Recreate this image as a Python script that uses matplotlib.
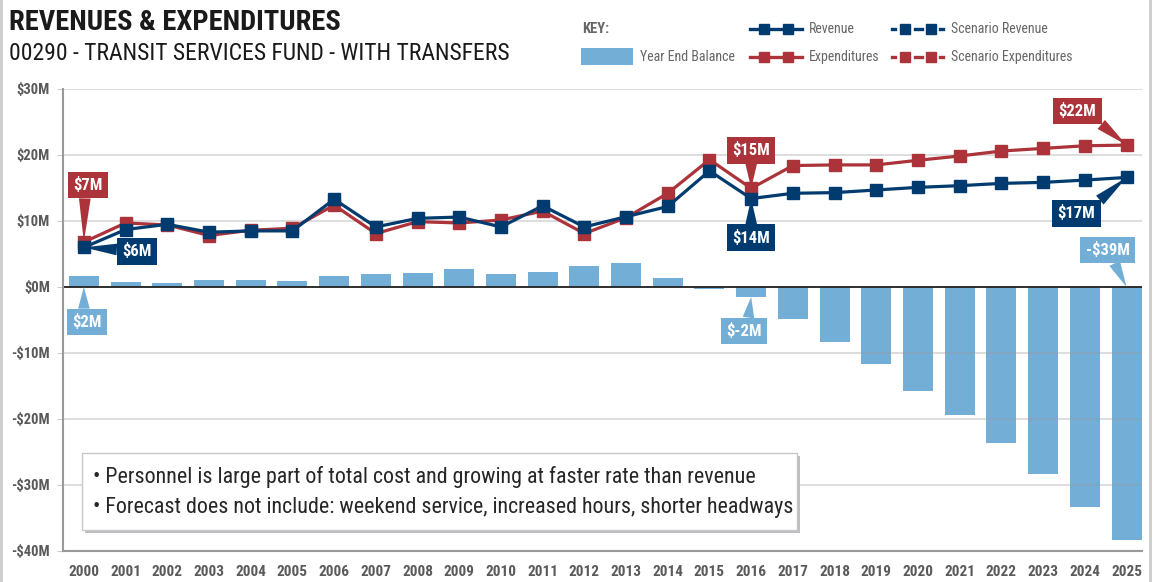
import numpy as np
import matplotlib
matplotlib.use('Agg')
import matplotlib.pyplot as plt
from matplotlib import font_manager
from matplotlib.lines import Line2D
from matplotlib.patches import Rectangle

# フォント選択 (細身のフォントを優先)
names = {f.name for f in font_manager.fontManager.ttflist}
cands = ['Roboto Condensed', 'Pathway Gothic One', 'Archivo Narrow', 'PT Sans Narrow',
         'Open Sans Condensed', 'IBM Plex Sans Condensed', 'DejaVu Sans']
cond = [c for c in cands if c in names][0]
plt.rcParams['font.family'] = [cond, 'DejaVu Sans']

# データ
years = [str(y) for y in range(2000, 2026)]
balance = [1.7, 0.8, 0.65, 1.05, 1.05, 0.9, 1.7, 2.0, 2.1, 2.7, 2.0, 2.3, 3.2, 3.6,
           1.35, -0.25, -1.5, -4.8, -8.4, -11.6, -15.8, -19.4, -23.7, -28.3, -33.3, -38.3]
revenue = [6.0, 8.7, 9.5, 8.3, 8.5, 8.5, 13.3, 9.1, 10.4, 10.6, 9.1, 12.3, 9.1, 10.65,
           12.2, 17.6, 13.4, 14.2, 14.3, 14.7, 15.1, 15.35, 15.7, 15.85, 16.2, 16.6]
expend = [6.8, 9.7, 9.4, 7.8, 8.6, 8.9, 12.4, 8.1, 9.9, 9.7, 10.15, 11.5, 8.1, 10.5,
          14.2, 19.3, 14.95, 18.4, 18.5, 18.5, 19.2, 19.85, 20.6, 21.0, 21.4, 21.5]
yticks = [30, 20, 10, 0, -10, -20, -30, -40]
ytick_labels = ['$30M', '$20M', '$10M', '$0M', '-$10M', '-$20M', '-$30M', '-$40M']
notes = ['Personnel is large part of total cost and growing at faster rate than revenue',
         'Forecast does not include: weekend service, increased hours, shorter headways']

# 色
NAVY = '#003b6f'
RED = '#ab3339'
BLUE = '#73aed6'
GRAY = '#5a5a5a'

W, H = 1155, 582
fig = plt.figure(figsize=(W / 100, H / 100), dpi=100)
ax = fig.add_axes([63 / W, 1 - 551 / H, (1142 - 63) / W, (551 - 89) / H])

x = np.arange(len(years))
ax.bar(x, balance, width=0.72, color=BLUE, zorder=2)
for t in yticks:
    ax.axhline(t, color='#9a9a9a', lw=1.2, alpha=0.4, zorder=2.2)
ax.axhline(0, color='#222222', lw=1.3, zorder=2.5)
ax.plot(x, expend, color=RED, lw=2.3, marker='s', ms=8, zorder=3)
ax.plot(x, revenue, color=NAVY, lw=2.3, marker='s', ms=8, zorder=4)

ax.set_xlim(-0.5, 25.37)
ax.set_ylim(-40, 30)
ax.set_xticks(x)
ax.set_xticklabels(years, fontsize=11, fontweight='bold', color=GRAY)
ax.set_yticks(yticks)
ax.set_yticklabels(ytick_labels, fontsize=10.5, fontweight='bold', color=GRAY)
ax.tick_params(axis='x', length=0, pad=10)
ax.tick_params(axis='y', length=4, color='#cccccc', pad=5.5)
for s in ['top', 'right']:
    ax.spines[s].set_visible(False)
for s in ['left', 'bottom']:
    ax.spines[s].set_color('#999999')
    ax.spines[s].set_linewidth(1.5)


# 吹き出しラベル
def callout(text, xi, yv, dx, dy, color, rel):
    ax.annotate(text, xy=(xi, yv), xytext=(dx, dy), textcoords='offset pixels',
                ha='center', va='center', fontsize=12, fontweight='bold', color='white',
                bbox=dict(boxstyle='square,pad=0.32', fc=color, ec='none'),
                arrowprops=dict(arrowstyle='wedge,tail_width=0.7,shrink_factor=0.5',
                                fc=color, ec='none', shrinkA=0, shrinkB=0, relpos=rel),
                zorder=6)


callout('$7M', 0, expend[0], 4, 57, RED, (0.4, 0))
callout('$6M', 0, revenue[0], 53, -4, NAVY, (0, 0.6))
callout('$2M', 0, 0, 3, -35, BLUE, (0.4, 1))
callout('$15M', 16, expend[16], 0, 38, RED, (0.5, 0))
callout('$14M', 16, revenue[16], 0, -39, NAVY, (0.5, 1))
callout('$-2M', 16, balance[16], -7, -34, BLUE, (0.6, 1))
callout('$22M', 25, expend[25], -49, 34, RED, (0.85, 0.2))
callout('$17M', 25, revenue[25], -50, -36, NAVY, (0.85, 0.8))
callout('-$39M', 25, 0, -19, 37, BLUE, (0.6, 0))


def fx(px):
    return px / W


def fy(py):
    return 1 - py / H


# タイトル
fig.text(fx(9), fy(23), 'REVENUES & EXPENDITURES', fontsize=20.5, fontweight='bold',
         color='#1a1a1a', va='center')
fig.text(fx(9), fy(53), '00290 - TRANSIT SERVICES FUND - WITH TRANSFERS', fontsize=17,
         color='#1a1a1a', va='center')

# 凡例
LEG = '#666666'
fig.text(fx(582), fy(29), 'KEY:', fontsize=10.5, fontweight='bold', color=LEG, va='center')
fig.add_artist(Rectangle((fx(581), fy(65)), fx(52), 17 / H, transform=fig.transFigure,
                         fc=BLUE, ec='none'))
fig.text(fx(640), fy(57), 'Year End Balance', fontsize=10, color=LEG, va='center')
for py, c, lab in [(29, NAVY, 'Revenue'), (57, RED, 'Expenditures')]:
    fig.add_artist(Line2D([fx(750), fx(802)], [fy(py)] * 2, color=c, lw=2.4,
                          transform=fig.transFigure))
    fig.add_artist(Line2D([fx(764), fx(788)], [fy(py)] * 2, color=c, lw=0, marker='s',
                          ms=7, transform=fig.transFigure))
    fig.text(fx(809), fy(py), lab, fontsize=10, color=LEG, va='center')
for py, c, lab in [(29, NAVY, 'Scenario Revenue'), (57, RED, 'Scenario Expenditures')]:
    for a, b in [(892, 895), (915, 922), (940, 943)]:
        fig.add_artist(Line2D([fx(a), fx(b)], [fy(py)] * 2, color=c, lw=2.4,
                              transform=fig.transFigure))
    fig.add_artist(Line2D([fx(905), fx(931)], [fy(py)] * 2, color=c, lw=0, marker='s',
                          ms=7, transform=fig.transFigure))
    fig.text(fx(951), fy(py), lab, fontsize=10, color=LEG, va='center')

# 注記ボックス
fig.add_artist(Rectangle((fx(85), fy(533)), fx(715), 77 / H, transform=fig.transFigure,
                         fc='#bdbdc2', ec='none', zorder=7))
fig.add_artist(Rectangle((fx(82), fy(530)), fx(715), 77 / H, transform=fig.transFigure,
                         fc='white', ec='#c8c8c8', lw=1, zorder=8))
for py, line in [(477, notes[0]), (508, notes[1])]:
    fig.text(fx(93), fy(py), '\u2022 ' + line, fontsize=15.8, color='#262626', va='center',
             zorder=9)

# 外枠
fig.add_artist(Line2D([fx(1), fx(1)], [0, 1], color='#cccccc', lw=2, transform=fig.transFigure))
fig.add_artist(Line2D([fx(1150), fx(1150)], [0, 1], color='#cccccc', lw=2,
                      transform=fig.transFigure))

fig.savefig('out.png', dpi=100)
